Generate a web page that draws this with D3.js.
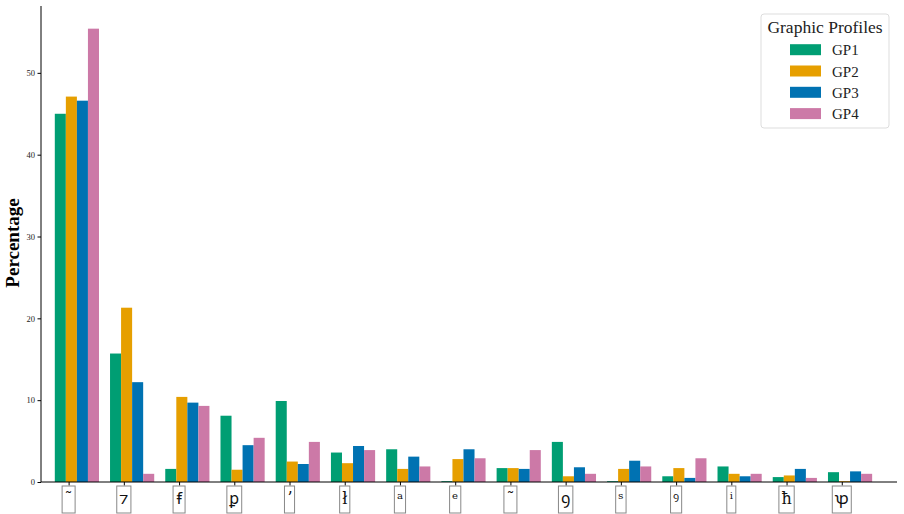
<!DOCTYPE html>
<html>
<head>
<meta charset="utf-8">
<script src="https://cdn.jsdelivr.net/npm/d3@7"></script>
<style>
  body { margin: 0; background: #fff; }
  svg { display: block; }
</style>
</head>
<body>
<div id="chart"></div>
<script>
// glyph categories (x axis)
var categories = ["˜", "⁊", "ꞙ", "ꝑ", "ʼ", "ł", "ᵃ", "ᵉ", "῀", "ꝯ", "ˢ", "ꝰ", "ⁱ", "ħ", "ꝕ"];

// percentages per graphic profile
var gp1 = [45.0, 15.7, 1.6, 8.1, 9.9, 3.6, 4.0, 0.1, 1.7, 4.9, 0.1, 0.7, 1.9, 0.6, 1.2];
var gp2 = [47.1, 21.3, 10.4, 1.5, 2.5, 2.3, 1.6, 2.8, 1.7, 0.7, 1.6, 1.7, 1.0, 0.8, 0.1];
var gp3 = [46.6, 12.2, 9.7, 4.5, 2.2, 4.4, 3.1, 4.0, 1.6, 1.8, 2.6, 0.5, 0.7, 1.6, 1.3];
var gp4 = [55.4, 1.0, 9.3, 5.4, 4.9, 3.9, 1.9, 2.9, 3.9, 1.0, 1.9, 2.9, 1.0, 0.5, 1.0];

var seriesNames = ["GP1", "GP2", "GP3", "GP4"];
var seriesColors = ["#009E73", "#E69F00", "#0072B2", "#CC79A7"];
var yTicks = [0, 10, 20, 30, 40, 50];

var series = [gp1, gp2, gp3, gp4];

var width = 904, height = 514;
var margin = {left: 41, right: 7, top: 6, bottom: 32};
var serif = "'Liberation Serif', 'DejaVu Serif', serif";
var glyphFont = "'DejaVu Serif', 'Noto Sans', 'DejaVu Sans', serif";

var svg = d3.select("#chart").append("svg")
    .attr("width", width)
    .attr("height", height);

// escalas
var barW = 0.2;
var x = d3.scaleLinear()
    .domain([-0.25, categories.length + 0.25])
    .range([margin.left, width - margin.right]);
var yMax = d3.max(series, s => d3.max(s)) * 1.05;
var y = d3.scaleLinear()
    .domain([0, yMax])
    .range([height - margin.bottom, margin.top]);

// barras
series.forEach(function (s, k) {
    svg.append("g")
        .selectAll("rect")
        .data(s)
        .enter()
        .append("rect")
        .attr("x", (d, i) => x(i + k * barW))
        .attr("width", x(barW) - x(0))
        .attr("y", d => y(d))
        .attr("height", d => y(0) - y(d))
        .attr("fill", seriesColors[k]);
});

// eje Y
var yAxis = svg.append("g")
    .attr("transform", "translate(" + margin.left + ",0)")
    .call(d3.axisLeft(y).tickValues(yTicks).tickSize(3.5).tickPadding(2.5));
yAxis.select(".domain").attr("stroke", "#000").attr("d", "M0," + y(0) + "V" + margin.top);
yAxis.selectAll("text").attr("font-family", serif).attr("font-size", 8.5).attr("fill", "#222");

// eje X
var xAxis = svg.append("g")
    .attr("transform", "translate(0," + y(0) + ")")
    .call(d3.axisBottom(x).tickValues(d3.range(categories.length).map(i => i + 0.25)).tickSize(3.5).tickFormat(""));
xAxis.select(".domain").attr("stroke", "#000").attr("d", "M" + margin.left + ",0H" + (width - margin.right));

// etiquetas en cajas
var labels = svg.append("g");
categories.forEach(function (c, i) {
    var cx = x(i + 0.25);
    var g = labels.append("g");
    var t = g.append("text")
        .attr("x", cx)
        .attr("y", 504)
        .attr("text-anchor", "middle")
        .attr("font-family", glyphFont)
        .attr("font-size", 16)
        .attr("fill", "#111")
        .text(c);
    var bb = t.node().getBBox();
    var w = Math.max(bb.width + 5, 9);
    g.insert("rect", "text")
        .attr("x", cx - w / 2)
        .attr("y", 486)
        .attr("width", w)
        .attr("height", 27)
        .attr("fill", "#fff")
        .attr("stroke", "#888")
        .attr("stroke-width", 1);
});

// título eje Y
svg.append("text")
    .attr("transform", "translate(19," + 243 + ") rotate(-90)")
    .attr("text-anchor", "middle")
    .attr("font-family", serif)
    .attr("font-weight", "bold")
    .attr("font-size", 19)
    .text("Percentage");

// leyenda
var legend = svg.append("g");
legend.append("rect")
    .attr("x", 761).attr("y", 14)
    .attr("width", 128).attr("height", 114)
    .attr("rx", 3)
    .attr("fill", "#fff")
    .attr("stroke", "#ddd");
legend.append("text")
    .attr("x", 825).attr("y", 33)
    .attr("text-anchor", "middle")
    .attr("font-family", serif)
    .attr("font-size", 17.5)
    .attr("fill", "#222")
    .text("Graphic Profiles");
seriesNames.forEach(function (n, k) {
    var cy = 49.7 + k * 21.3;
    legend.append("rect")
        .attr("x", 790).attr("y", cy - 5.5)
        .attr("width", 31).attr("height", 11)
        .attr("fill", seriesColors[k]);
    legend.append("text")
        .attr("x", 832).attr("y", cy + 5.5)
        .attr("font-family", serif)
        .attr("font-size", 15)
        .attr("fill", "#222")
        .text(n);
});
</script>
</body>
</html>
